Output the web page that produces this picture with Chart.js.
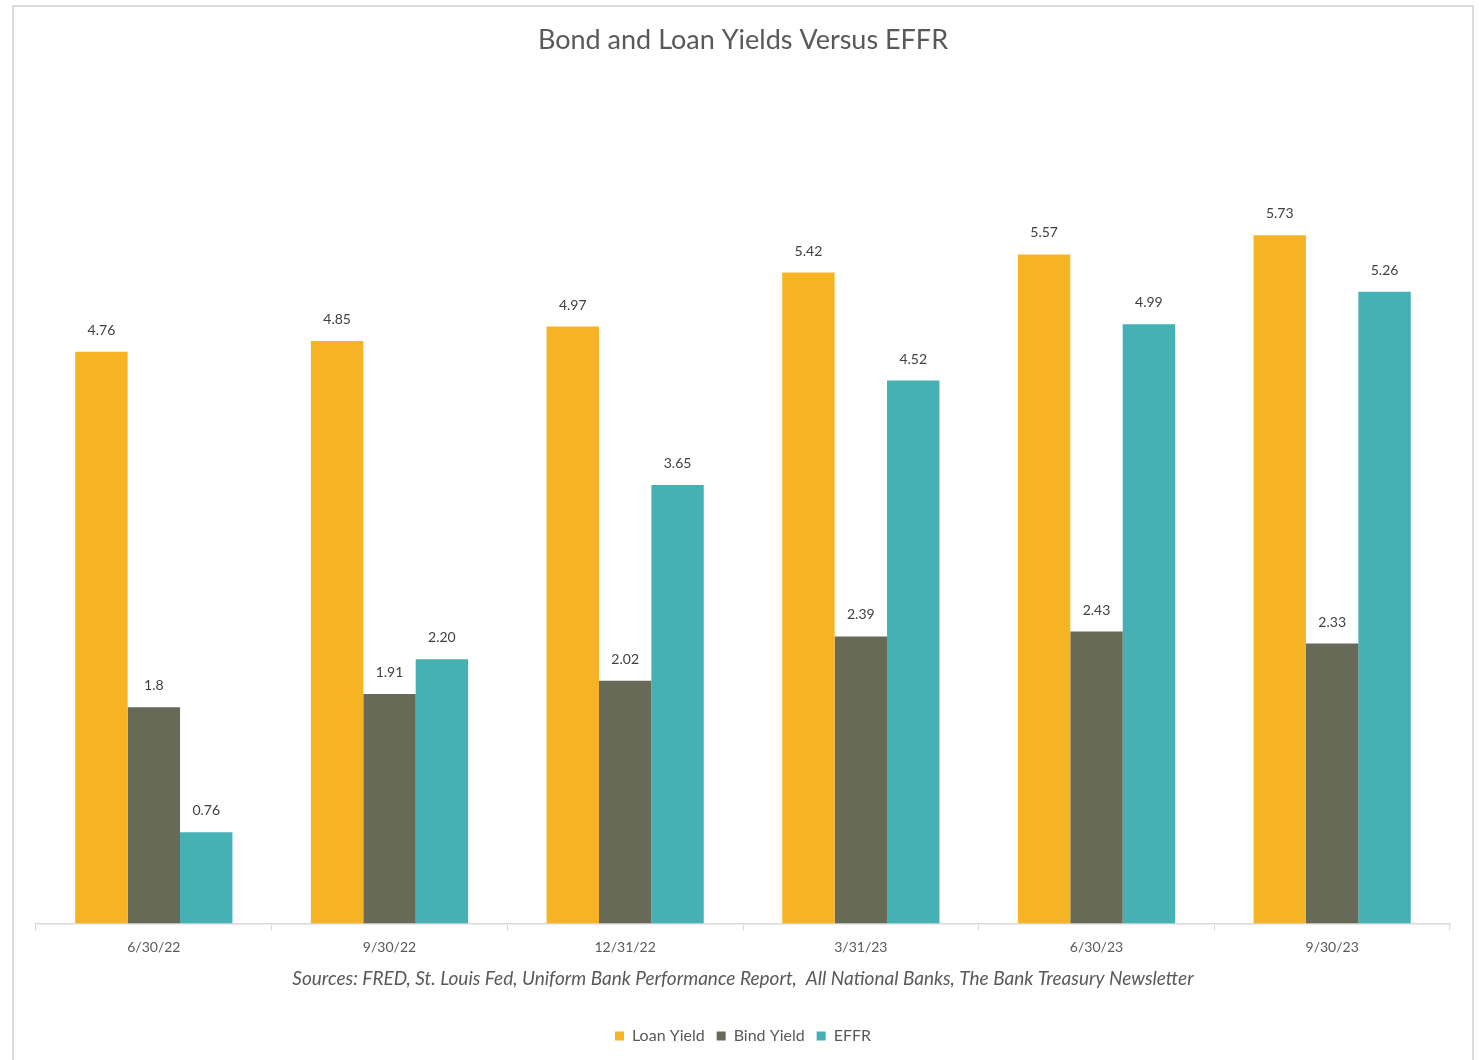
<!DOCTYPE html>
<html>
<head>
<meta charset="utf-8">
<script src="https://cdn.jsdelivr.net/npm/chart.js@4"></script>
<style>
  body { margin: 0; background: #fff; overflow: hidden; }
  #frame { position: absolute; left: 12px; top: 5px; width: 1458px; height: 1100px; border: 2px solid #dcdcdc; }
  #wrap { position: absolute; left: 0; top: 0; width: 1479px; height: 1060px; }
</style>
</head>
<body>
<div id="frame"></div>
<div id="wrap"><canvas id="myChart"></canvas></div>
<script>
var quarters = ['6/30/22', '9/30/22', '12/31/22', '3/31/23', '6/30/23', '9/30/23'];
var loanYield = [4.76, 4.85, 4.97, 5.42, 5.57, 5.73];
var bindYield = [1.8, 1.91, 2.02, 2.39, 2.43, 2.33];
var effr = [0.76, 2.20, 3.65, 4.52, 4.99, 5.26];

var grey = '#595959';

// value labels over each bar
var barLabels = {
  id: 'barLabels',
  afterDatasetsDraw: function(chart) {
    var ctx = chart.ctx;
    ctx.save();
    ctx.font = '14px Lato, sans-serif';
    ctx.fillStyle = '#404040';
    ctx.textAlign = 'center';
    ctx.textBaseline = 'alphabetic';
    chart.data.datasets.forEach(function(ds, i) {
      chart.getDatasetMeta(i).data.forEach(function(bar, j) {
        var v = ds.data[j];
        var txt = ds.plainLabels ? String(v) : v.toFixed(2);
        ctx.fillText(txt, bar.x, bar.y - 17);
      });
    });
    ctx.restore();
  }
};

var ctx = document.getElementById('myChart').getContext('2d');
var chart = new Chart(ctx, {
  type: 'bar',
  data: {
    labels: quarters,
    datasets: [
      { label: 'Loan Yield', data: loanYield, backgroundColor: '#F6B324' },
      { label: 'Bind Yield', data: bindYield, backgroundColor: '#666A57', plainLabels: true },
      { label: 'EFFR', data: effr, backgroundColor: '#46B1B5' }
    ]
  },
  options: {
    responsive: true,
    maintainAspectRatio: false,
    animation: false,
    layout: { padding: { left: 36, right: 29, top: 10, bottom: 6 } },
    datasets: { bar: { categoryPercentage: 0.667, barPercentage: 1.0 } },
    plugins: {
      title: {
        display: true,
        text: 'Bond and Loan Yields Versus EFFR',
        color: grey,
        font: { family: 'Lato, sans-serif', size: 27, weight: 'normal' },
        padding: { top: 14, bottom: 78 }
      },
      legend: {
        position: 'bottom',
        labels: {
          color: grey,
          font: { family: 'Lato, sans-serif', size: 16 },
          boxWidth: 9,
          boxHeight: 9,
          padding: 12
        }
      },
      tooltip: { enabled: false }
    },
    scales: {
      x: {
        grid: { offset: true, drawOnChartArea: false, tickLength: 7, color: '#d9d9d9' },
        border: { display: true, color: '#d9d9d9', width: 1.5 },
        ticks: { color: grey, font: { family: 'Lato, sans-serif', size: 14 }, padding: 9 },
        title: {
          display: true,
          text: 'Sources: FRED, St. Louis Fed, Uniform Bank Performance Report,  All National Banks, The Bank Treasury Newsletter',
          color: grey,
          font: { family: 'Lato, sans-serif', size: 19, style: 'italic' },
          padding: { top: 2, bottom: 26 }
        }
      },
      y: {
        display: false,
        min: 0,
        max: 6.57
      }
    }
  },
  plugins: [barLabels]
});
</script>
</body>
</html>
